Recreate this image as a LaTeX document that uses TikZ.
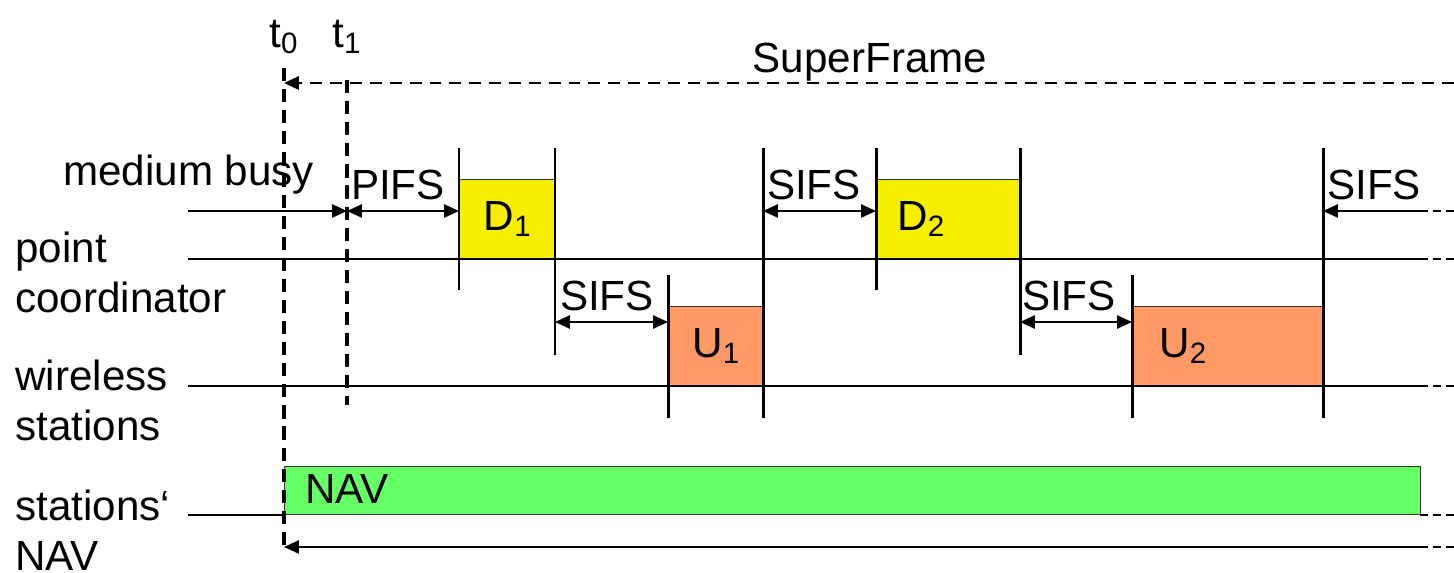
\documentclass[tikz,border=0pt]{standalone}
\usepackage{fontspec}
\setmainfont{Liberation Sans}
\usetikzlibrary{arrows.meta}
\definecolor{dyel}{RGB}{245,240,0}
\definecolor{uorg}{RGB}{255,153,102}
\definecolor{navg}{RGB}{102,255,102}
\begin{document}
\begin{tikzpicture}[x=0.02cm,y=-0.02cm,
  thinline/.style={line width=1.1pt},
  tickline/.style={line width=1.7pt},
  dashv/.style={line width=2.1pt,dash pattern=on 7.5pt off 4.5pt},
  dashtop/.style={line width=1.5pt,dash pattern=on 6.8pt off 4.5pt},
  dashend/.style={line width=1.1pt,dash pattern=on 4.5pt off 3pt},
  tip/.style={-{Triangle[length=8.5pt,width=7.5pt]}},
  dtip/.style={{Triangle[length=8.5pt,width=7.5pt]}-{Triangle[length=8.5pt,width=7.5pt]}},
  lbl/.style={font=\fontsize{24}{28}\selectfont,inner sep=0pt},
  frame/.style={draw=black!80,line width=0.8pt,inner sep=0pt,anchor=south west,lbl},
]
\useasboundingbox (0,0) rectangle (1454,572);

% boxes
\node[frame,fill=dyel,minimum width=1.92cm,minimum height=1.58cm] (D1) at (459,259) {\raisebox{-6pt}{D\textsubscript{1}}};
\node[frame,fill=uorg,minimum width=1.90cm,minimum height=1.58cm] (U1) at (668,386) {\raisebox{-6pt}{U\textsubscript{1}}};
\node[frame,fill=dyel,minimum width=2.88cm,minimum height=1.58cm] (D2) at (876,259) {\hspace*{-1.1cm}\raisebox{-6pt}{D\textsubscript{2}}};
\node[frame,fill=uorg,minimum width=3.82cm,minimum height=1.58cm] (U2) at (1132,386) {\hspace*{-1.8cm}\raisebox{-6pt}{U\textsubscript{2}}};
\node[frame,fill=navg,minimum width=22.72cm,minimum height=0.96cm] (NAVbox) at (284,515) {};
\node[lbl,anchor=base west] (navtxt) at (305,503) {NAV};

% coordinates
\coordinate (mbS) at (188,211);
\coordinate (t1m) at (347,211);
\coordinate (d1m) at (459,211);
\coordinate (pcS) at (188,259);
\coordinate (pcE) at (1420,259);
\coordinate (pcF) at (1454,259);
\coordinate (wsS) at (188,386);
\coordinate (wsE) at (1420,386);
\coordinate (wsF) at (1454,386);
\coordinate (nvS) at (188,515);
\coordinate (nvE) at (1420,515);
\coordinate (nvF) at (1454,515);
\coordinate (btE) at (1420,547);
\coordinate (btF) at (1454,547);
\coordinate (bt0) at (284,547);
\coordinate (sfF) at (1454,83);
\coordinate (sf0) at (284,83);
\coordinate (t0top) at (284,68);
\coordinate (t1top) at (347,80);
\coordinate (t1bot) at (347,405);
\coordinate (rsE) at (1420,211);
\coordinate (rsF) at (1454,211);

% ticks
\foreach \n/\x/\a/\b in {a/459/148/290, b/555/148/355, c/668/275/418, d/763/148/418,
                         e/876/148/290, f/1020/148/355, g/1132/275/418, h/1323/148/418}{
  \coordinate (tk\n a) at (\x,\a);
  \coordinate (tk\n b) at (\x,\b);
  \draw[tickline] (tk\n a) -- (tk\n b);
}

% base lines
\draw[thinline] (pcS) -- (pcE);
\draw[dashend] (pcE) -- (pcF);
\draw[thinline] (wsS) -- (wsE);
\draw[dashend] (wsE) -- (wsF);
\draw[thinline] (nvS) -- (NAVbox.south west);
\draw[dashend] (nvE) -- (nvF);

% medium busy / PIFS
\draw[thinline,tip] (mbS) -- (t1m);
\draw[thinline,dtip] (t1m) -- (d1m);

% SIFS arrows
\coordinate (s1a) at (555,322); \coordinate (s1b) at (668,322);
\coordinate (s2a) at (763,211); \coordinate (s2b) at (876,211);
\coordinate (s3a) at (1020,322); \coordinate (s3b) at (1132,322);
\coordinate (s4b) at (1323,211);
\draw[thinline,dtip] (s1a) -- (s1b);
\draw[thinline,dtip] (s2a) -- (s2b);
\draw[thinline,dtip] (s3a) -- (s3b);
\draw[thinline,tip] (rsE) -- (s4b);
\draw[dashend] (rsE) -- (rsF);

% bottom NAV arrow
\draw[thinline,tip] (btE) -- (bt0);
\draw[dashend] (btE) -- (btF);

% superframe
\draw[dashtop,tip] (sfF) -- (sf0);
\draw[dashv] (t0top) -- (bt0);
\draw[dashv] (t1top) -- (t1bot);

% labels
\node[lbl,anchor=base] (t0l) at (284,47) {t\textsubscript{0}};
\node[lbl,anchor=base] (t1l) at (347,47) {t\textsubscript{1}};
\node[lbl,anchor=base] (sfl) at (870,72) {SuperFrame};
\node[lbl,anchor=base west] (mbl) at (63,185) {medium busy};
\node[lbl,anchor=base] (pifs) at (398,199) {PIFS};
\node[lbl,anchor=base] (sifs1) at (607,310) {SIFS};
\node[lbl,anchor=base] (sifs2) at (814,199) {SIFS};
\node[lbl,anchor=base] (sifs3) at (1069,310) {SIFS};
\node[lbl,anchor=base] (sifs4) at (1374,199) {SIFS};
\node[lbl,anchor=base west] (pc1) at (15,262) {point};
\node[lbl,anchor=base west] (pc2) at (15,312) {coordinator};
\node[lbl,anchor=base west] (ws1) at (15,390) {wireless};
\node[lbl,anchor=base west] (ws2) at (15,440) {stations};
\node[lbl,anchor=base west] (sn1) at (15,520) {stations‘};
\node[lbl,anchor=base west] (sn2) at (15,570) {NAV};
\end{tikzpicture}
\end{document}
